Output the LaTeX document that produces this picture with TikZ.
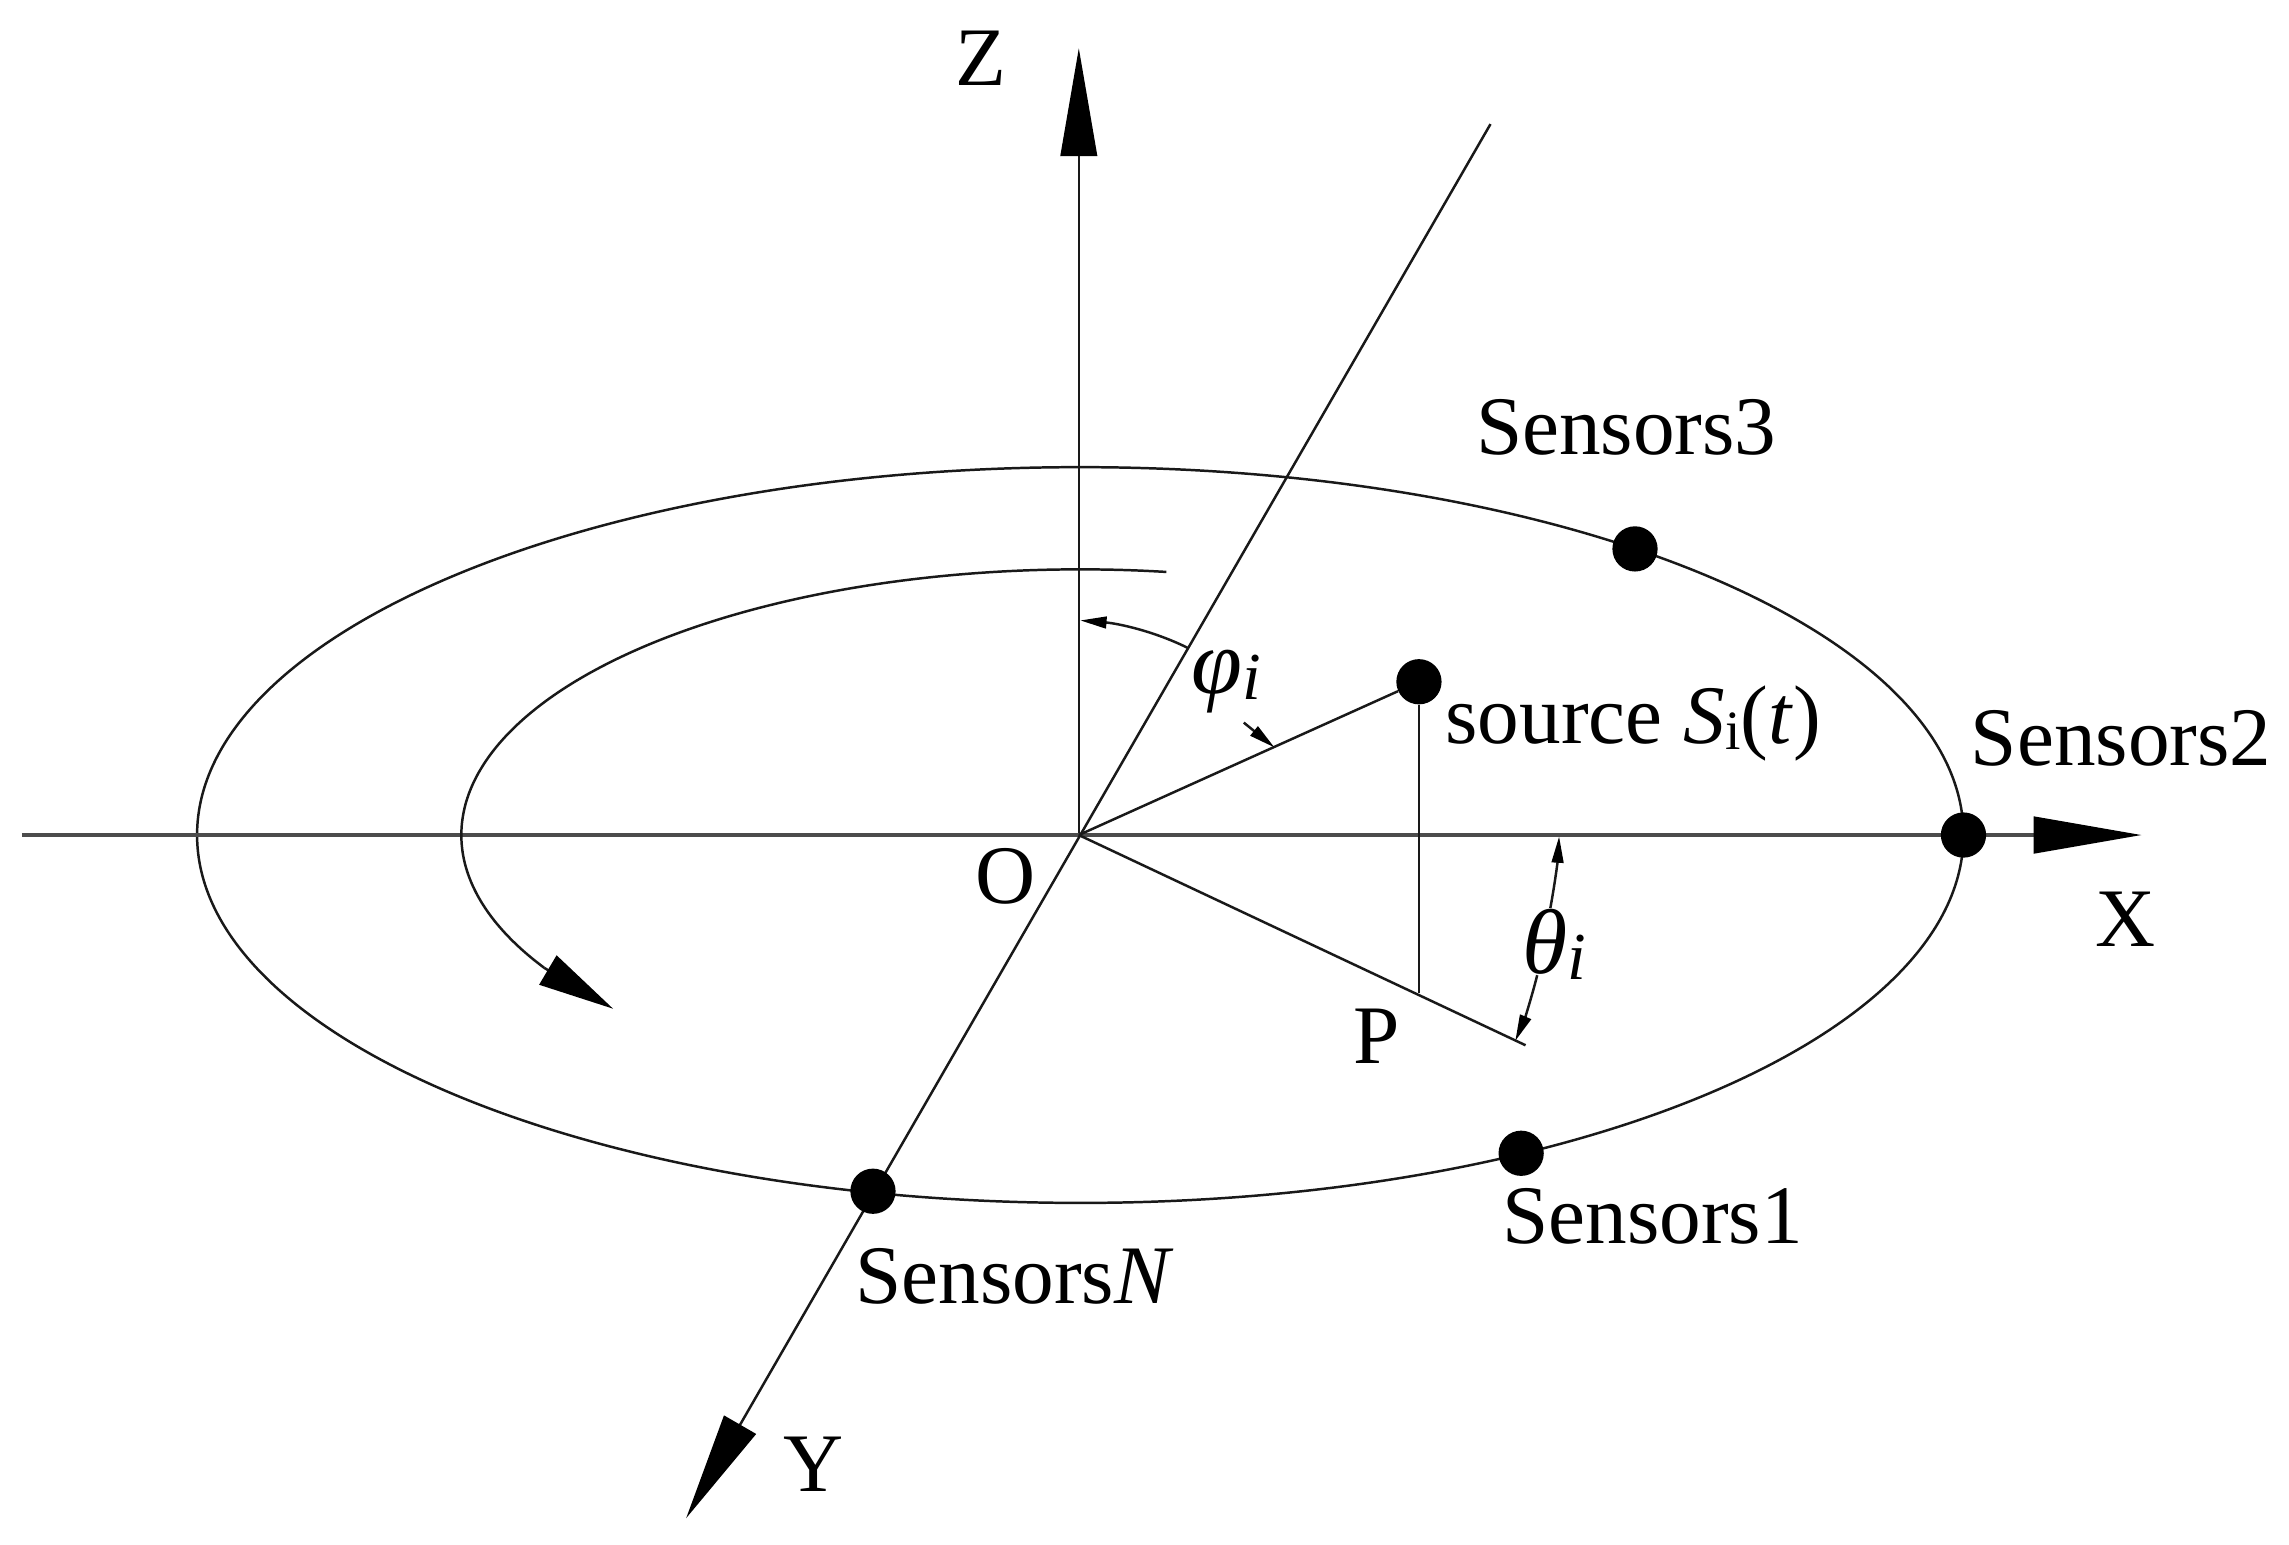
\documentclass[tikz,border=0pt]{standalone}
\usepackage{fontspec}
\setmainfont{Liberation Serif}
\usetikzlibrary{arrows.meta}
\tikzset{
  ln/.style={line width=1.7pt,black!90},
  axisline/.style={line width=2.4pt,black!70},
  bigtip/.style={-{Triangle[length=74pt,width=25pt,color=black,fill=black]}},
  smalltip/.style={-{Triangle[length=18pt,width=8pt,color=black,fill=black]}},
  dot/.style={circle,fill=black,inner sep=0pt,minimum width=29pt,minimum height=31pt},
  lab/.style={inner sep=0pt,font=\fontsize{57}{62}\selectfont,text=black},
  greek/.style={inner sep=0pt,font=\fontsize{63}{68}\selectfont,text=black}
}
\begin{document}
\begin{tikzpicture}[x=1pt,y=-1pt]
\useasboundingbox (0,0) rectangle (1568,1058);
\coordinate (O) at (739,572);
\coordinate (Ztip) at (739,33);
\coordinate (Xstart) at (15,572);
\coordinate (Xtip) at (1467,572);
\coordinate (Ytop) at (1021,85);
\coordinate (Ytip) at (470,1040);
\coordinate (P) at (972,680);
\coordinate (Pend) at (1045,716);
% ellipse
\draw[ln] (740,572) ellipse [x radius=605, y radius=252];
% axes
\draw[ln,bigtip] (O) -- (Ztip);
\draw[axisline,bigtip] (Xstart) -- (Xtip);
\draw[ln,bigtip] (Ytop) -- (Ytip);
% spiral
\draw[ln] plot[smooth,domain=82:210,samples=60] ({740+424*cos(\x)},{572-182*sin(\x)}) coordinate (Send);
\coordinate (Stip) at (420,691);
\draw[ln,-{Triangle[length=52pt,width=23pt,color=black,fill=black]}] (Send) -- (Stip);
% sensors
\node[dot] (s3) at (1120,376) {};
\node[dot] (s2) at (1345,572) {};
\node[dot] (s1) at (1042,790) {};
\node[dot] (sN) at (598,816) {};
\node[dot] (src) at (972,467) {};
% triangle lines
\draw[ln] (O) -- (src);
\draw[ln] (src) -- (P);
\draw[ln] (O) -- (Pend);
% angle marks
\coordinate (phiA) at (814,444);
\coordinate (phiB) at (740,425);
\draw[ln,smalltip] (phiA) .. controls (790,432) and (765,427) .. (phiB);
\coordinate (phiC) at (852,495);
\coordinate (phiD) at (873,512);
\draw[ln,smalltip] (phiC) -- (phiD);
\coordinate (thA) at (1062,622);
\coordinate (thB) at (1068,573);
\draw[ln,smalltip] (thA) .. controls (1065,606) and (1067,590) .. (thB);
\coordinate (thC) at (1053,668);
\coordinate (thD) at (1038,713);
\draw[ln,smalltip] (thC) .. controls (1049,684) and (1044,699) .. (thD);
% labels
\node[lab] (lz) at (672,40) {Z};
\node[lab] (lx) at (1456,630) {X};
\node[lab] (ly) at (557,1003) {Y};
\node[lab] (lo) at (689,600) {O};
\node[lab] (lp) at (943,710) {P};
\node[lab] (l3) at (1114,293) {Sensors3};
\node[lab] (l2) at (1453,506) {Sensors2};
\node[lab] (l1) at (1132,833) {Sensors1};
\node[lab] (lN) at (695,874) {Sensors\textit{N}};
\node[lab,anchor=base west] (lsrc) at (990,509) {source \textit{S}{\fontsize{38}{42}\selectfont\raisebox{-0.12em}{i}}(\textit{t})};
\node[greek] (lphi) at (840,467) {\textit{φ}{\fontsize{46}{50}\selectfont\raisebox{-0.08em}{\textit{i}}}};
\node[greek] (lth) at (1065,647) {\textit{θ}{\fontsize{46}{50}\selectfont\raisebox{-0.08em}{\textit{i}}}};
\end{tikzpicture}
\end{document}
